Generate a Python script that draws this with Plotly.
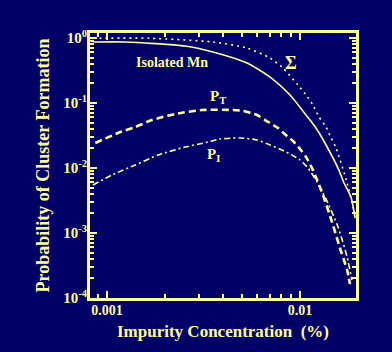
import plotly.graph_objects as go

# Isolated Mn (solid)
iso_c = [0.00085, 0.00124, 0.00254, 0.00354, 0.00531, 0.0070, 0.00888, 0.01074, 0.0121, 0.01364, 0.0159, 0.0169, 0.01837, 0.0193]
iso_p = [0.868, 0.868, 0.753, 0.609, 0.412, 0.251, 0.133, 0.0654, 0.0412, 0.0226, 0.0093, 0.00588, 0.00358, 0.0017]

# Sigma (dotted)
sig_c = [0.00085, 0.00167, 0.00354, 0.00531, 0.0070, 0.00816, 0.00976, 0.01074, 0.01167, 0.01254, 0.01364, 0.01449, 0.01538, 0.01754, 0.0193]
sig_p = [0.99, 0.99, 0.868, 0.702, 0.492, 0.345, 0.189, 0.133, 0.0931, 0.0609, 0.0427, 0.029, 0.0203, 0.00588, 0.0018]

# P_T (dashed)
pt_c = [0.00087, 0.00114, 0.0014, 0.00171, 0.00225, 0.0031, 0.0045, 0.00507, 0.00599, 0.00659, 0.00769, 0.00836, 0.0092, 0.0100, 0.01074, 0.01167, 0.01315, 0.01465, 0.0161, 0.01754, 0.01815]
pt_p = [0.0243, 0.0345, 0.0427, 0.0547, 0.0677, 0.078, 0.078, 0.0753, 0.0654, 0.0547, 0.0412, 0.0330, 0.026, 0.0196, 0.01476, 0.0093, 0.00384, 0.001476, 0.000588, 0.00027, 0.000164]

# P_I (dash-dot)
pi_c = [0.000846, 0.00106, 0.0014, 0.00184, 0.00254, 0.00334, 0.00385, 0.00489, 0.00599, 0.0070, 0.00807, 0.0091, 0.0100, 0.0110, 0.01225, 0.01364, 0.01574, 0.01754, 0.01858]
pi_p = [0.00548, 0.0078, 0.0111, 0.0158, 0.021, 0.0251, 0.0279, 0.029, 0.027, 0.0226, 0.0189, 0.0158, 0.0133, 0.0100, 0.0061, 0.00334, 0.00124, 0.000427, 0.000189]

y_tickvals = [1, 0.1, 0.01, 0.001, 0.0001]
y_ticktext = ["10<sup>0</sup>", "10<sup>-1</sup>", "10<sup>-2</sup>", "10<sup>-3</sup>", "10<sup>-4</sup>"]
x_tickvals = [0.001, 0.01]
x_ticktext = ["0.001", "0.01"]

FG = "#FFFF99"
BG = "#000066"
FONT = "Liberation Serif"
XR = [-3.088, -1.71]
YR = [-4.0, 0.077]

fig = go.Figure()
fig.add_trace(go.Scatter(x=iso_c, y=iso_p, mode="lines",
                         line=dict(color=FG, width=1.6, shape="spline", smoothing=0.6)))
fig.add_trace(go.Scatter(x=sig_c, y=sig_p, mode="lines",
                         line=dict(color=FG, width=1.6, dash="2px,4px", shape="spline", smoothing=0.6)))
fig.add_trace(go.Scatter(x=pt_c, y=pt_p, mode="lines",
                         line=dict(color=FG, width=2.6, dash="7px,4px", shape="spline", smoothing=0.6)))
fig.add_trace(go.Scatter(x=pi_c, y=pi_p, mode="lines",
                         line=dict(color=FG, width=1.6, dash="6px,3px,2px,3px", shape="spline", smoothing=0.6)))
# invisible trace to activate the label overlay axes
fig.add_trace(go.Scatter(x=iso_c[:1], y=iso_p[:1], xaxis="x2", yaxis="y2", mode="markers",
                         marker=dict(opacity=0), hoverinfo="skip"))

fig.add_annotation(x=-2.663, y=-0.37, xref="x", yref="y", text="Isolated Mn", showarrow=False,
                   font=dict(family=FONT, size=14, color=FG, weight="bold"))
fig.add_annotation(x=-2.045, y=-0.385, xref="x", yref="y", text="Σ", showarrow=False,
                   font=dict(family=FONT, size=18, color=FG, weight="bold"))
fig.add_annotation(x=-2.425, y=-0.91, xref="x", yref="y", text="P<sub>T</sub>", showarrow=False,
                   font=dict(family=FONT, size=15, color=FG, weight="bold"))
fig.add_annotation(x=-2.45, y=-1.8, xref="x", yref="y", text="P<sub>I</sub>", showarrow=False,
                   font=dict(family=FONT, size=15, color=FG, weight="bold"))

tick_axis = dict(showline=True, linecolor=FG, linewidth=2.5, mirror="ticks",
                 ticks="inside", tickcolor=FG, ticklen=7, tickwidth=2, dtick=1,
                 showticklabels=False, showgrid=False, zeroline=False,
                 minor=dict(ticks="inside", ticklen=4, tickwidth=1.5, tickcolor=FG, showgrid=False))

fig.update_layout(
    xaxis=dict(type="log", range=XR, **tick_axis),
    yaxis=dict(type="log", range=YR, **tick_axis),
    xaxis2=dict(type="log", range=XR, overlaying="x", side="bottom", tickmode="array",
                tickvals=x_tickvals, ticktext=x_ticktext, ticks="", showline=False,
                showgrid=False, zeroline=False, ticklabelstandoff=2,
                tickfont=dict(family=FONT, size=14, color=FG, weight="bold"),
                title=dict(text="Impurity Concentration  (%)", standoff=8,
                           font=dict(family=FONT, size=17, color=FG, weight="bold"))),
    yaxis2=dict(type="log", range=YR, overlaying="y", side="left", tickmode="array",
                tickvals=y_tickvals, ticktext=y_ticktext, ticks="", showline=False,
                showgrid=False, zeroline=False, ticklabelstandoff=2,
                tickfont=dict(family=FONT, size=15, color=FG, weight="bold"),
                title=dict(text="Probability of Cluster Formation", standoff=8,
                           font=dict(family=FONT, size=18, color=FG, weight="bold"))),
    width=392, height=352, margin=dict(l=90, r=36, t=33, b=54),
    paper_bgcolor=BG, plot_bgcolor=BG, showlegend=False)

fig.write_html("out.html")
